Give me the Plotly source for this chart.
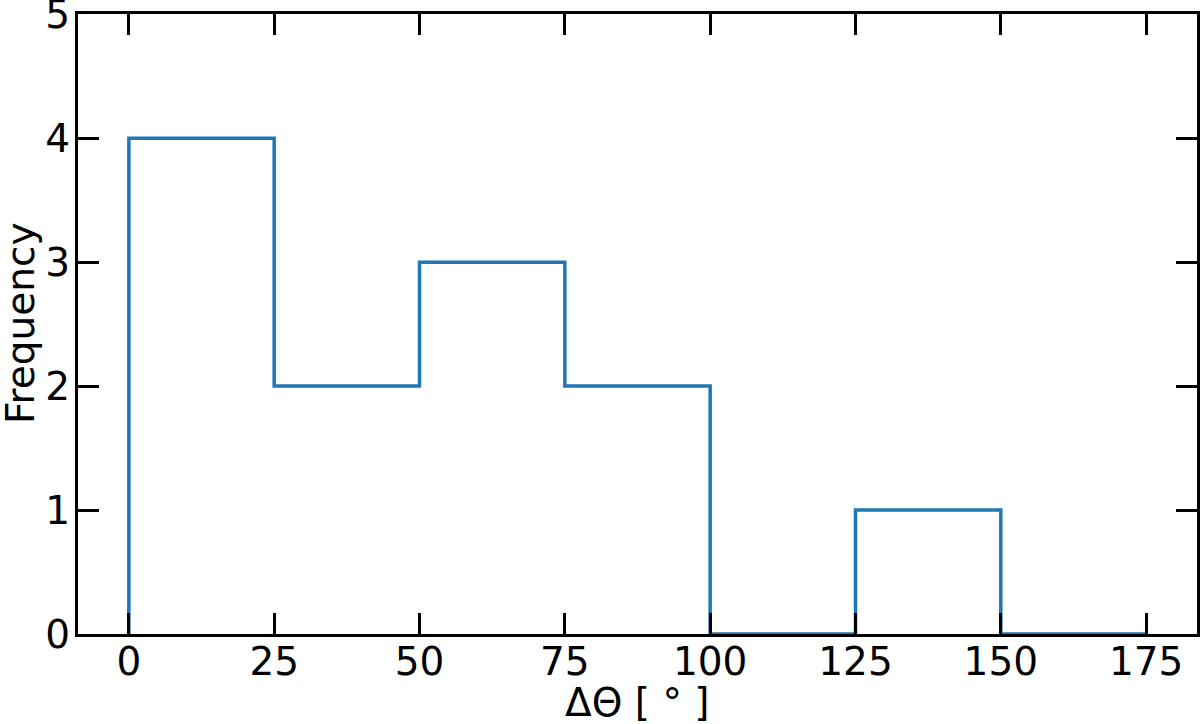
import plotly.graph_objects as go

# histogram of angle differences (bin edges in degrees, counts per bin)
bin_edges = [0, 25, 50, 75, 100, 125, 150, 175]
counts = [4, 2, 3, 2, 0, 1, 0]

x_ticks = [0, 25, 50, 75, 100, 125, 150, 175]
y_ticks = [0, 1, 2, 3, 4, 5]

x_title = "ΔΘ [ ° ]"
y_title = "Frequency"

# step outline like matplotlib histtype='step'
step_x = [bin_edges[0]] + bin_edges
step_y = [0] + counts + [0]

fig = go.Figure()
fig.add_trace(go.Scatter(
    x=step_x,
    y=step_y,
    mode="lines",
    line=dict(color="#1f77b4", width=3.5, shape="hv"),
    showlegend=False,
    cliponaxis=False,
))

axis_common = dict(
    showgrid=False,
    zeroline=False,
    showline=True,
    linecolor="black",
    linewidth=3,
    mirror="ticks",
    ticks="inside",
    ticklen=21,
    tickwidth=3,
    tickcolor="black",
    tickfont=dict(size=39, color="black"),
    ticklabeloverflow="allow",
    automargin=False,
)

fig.update_layout(
    width=1200,
    height=724,
    margin=dict(l=78, r=3, t=14, b=90),
    paper_bgcolor="white",
    plot_bgcolor="white",
    font=dict(family="DejaVu Sans", color="black"),
    xaxis=dict(
        axis_common,
        range=[-8.75, 183.75],
        tickvals=x_ticks,
        ticklabelstandoff=-9,  # plotly leaves room for ticklen even when ticks are inside
    ),
    yaxis=dict(
        axis_common,
        range=[0, 5.002],
        tickvals=y_ticks,
        ticklabelstandoff=-3,
    ),
)

# axis titles as annotations so they sit where matplotlib put them
fig.add_annotation(
    text=x_title, xref="paper", yref="paper", x=0.5, y=0,
    xanchor="center", yanchor="middle", yshift=-68,
    showarrow=False, font=dict(size=39, color="black"),
)
fig.add_annotation(
    text=y_title, xref="paper", yref="paper", x=0, y=0.5,
    xanchor="center", yanchor="middle", xshift=-58, textangle=-90,
    showarrow=False, font=dict(size=39, color="black"),
)

# drop the default 8px body margin so the figure sits at the page corner
fig.write_html(
    "out.html",
    config={"displayModeBar": False},
    post_script="document.body.style.margin = '0';",
)
